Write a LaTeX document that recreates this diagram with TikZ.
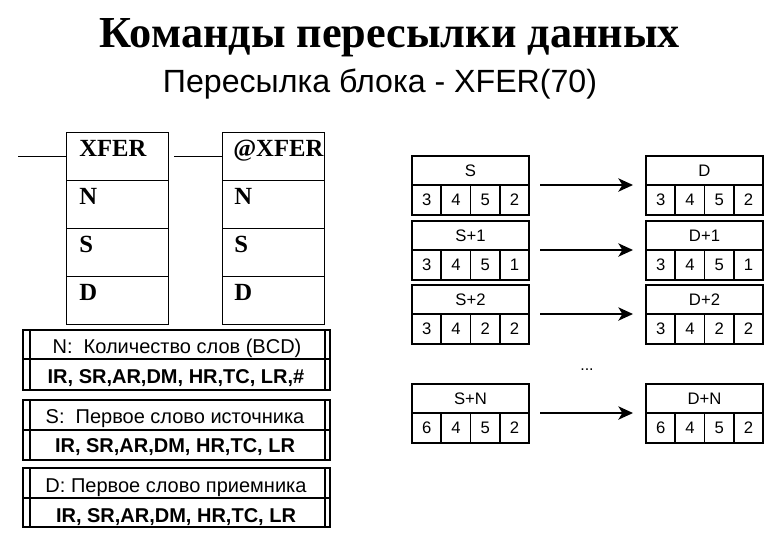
\documentclass[tikz,border=0pt]{standalone}
\usepackage{fontspec}
\setmainfont{Liberation Serif}
\setsansfont{Liberation Sans}
\usetikzlibrary{arrows.meta}
\tikzset{
  wordhead/.style={draw, line width=1.2pt, anchor=north west, inner sep=0pt, outer sep=0pt,
    minimum width=87.75pt, minimum height=21.75pt,
    font=\sffamily\fontsize{12.5}{15}\selectfont},
  wordcell/.style={draw, line width=1.2pt, anchor=north west, inner sep=0pt, outer sep=0pt,
    minimum width=21.94pt, minimum height=22.5pt,
    font=\sffamily\fontsize{12.5}{15}\selectfont},
  boxtext/.style={anchor=base west, inner sep=0pt, font=\bfseries\fontsize{18.5}{20}\selectfont},
  infotext/.style={anchor=base, inner sep=0pt, font=\sffamily\fontsize{15}{18}\selectfont},
  infobold/.style={anchor=base, inner sep=0pt, font=\sffamily\bfseries\fontsize{15}{18}\selectfont},
  infoline/.style={line width=1.3pt},
  movearrow/.style={line width=1.1pt, -{Stealth[length=11pt, width=10pt, inset=3pt]}}
}
\begin{document}
\begin{tikzpicture}[x=0.75pt,y=0.75pt,yscale=-1,xscale=1]
\useasboundingbox (0,0) rectangle (780,540);
% titles
\node[anchor=base, inner sep=0pt, font=\bfseries\fontsize{33.2}{40}\selectfont] (title) at (390,47) {Команды пересылки данных};
\node[anchor=base, inner sep=0pt, font=\sffamily\fontsize{24.1}{28}\selectfont] (subtitle) at (380,92) {Пересылка блока - XFER(70)};
% ladder boxes
\draw [line width=0.6pt] (66,132) rectangle (168,324);
\draw [line width=0.6pt] (66,180) -- (168,180) (66,228) -- (168,228) (66,276) -- (168,276);
\draw [line width=0.6pt] (222,132) rectangle (324,324);
\draw [line width=0.6pt] (222,180) -- (324,180) (222,228) -- (324,228) (222,276) -- (324,276);
\coordinate (railin) at (18,156);
\coordinate (xferin) at (66,156);
\coordinate (railmid) at (174,156);
\coordinate (atxferin) at (222,156);
\draw [line width=0.6pt] (railin) -- (xferin);
\draw [line width=0.6pt] (railmid) -- (atxferin);
\node[boxtext] (xfer) at (79,156) {XFER};
\node[boxtext] (xfern) at (79,204) {N};
\node[boxtext] (xfers) at (79,252) {S};
\node[boxtext] (xferd) at (79,300) {D};
\node[boxtext] (atxfer) at (233,156) {@XFER};
\node[boxtext] (atxfern) at (234,204) {N};
\node[boxtext] (atxfers) at (234,252) {S};
\node[boxtext] (atxferd) at (234,300) {D};
% operand boxes
\draw [infoline] (23,330) rectangle (330,390);
\draw [infoline] (30,330) -- (30,390) (325,330) -- (325,390) (23,359) -- (330,359);
\node[infotext] (ntext) at (177,353) {N:\ \ Количество слов (BCD)};
\node[infobold] (narea) at (176,383) {IR, SR,AR,DM, HR,TC, LR,\#};
\draw [infoline] (23,400) rectangle (330,460);
\draw [infoline] (30,400) -- (30,460) (325,400) -- (325,460) (23,430) -- (330,430);
\node[infotext] (stext) at (175,423) {S:\ \ Первое слово источника};
\node[infobold] (sarea) at (175,452) {IR, SR,AR,DM, HR,TC, LR};
\draw [infoline] (23,468) rectangle (330,527);
\draw [infoline] (30,468) -- (30,527) (325,468) -- (325,527) (23,498) -- (330,498);
\node[infotext] (dtext) at (176,492) {D: Первое слово приемника};
\node[infobold] (darea) at (176,522) {IR, SR,AR,DM, HR,TC, LR};
% words S -> D
\foreach \row/\top/\src/\dst/\va/\vb/\vc/\vd in {1/156/S/D/3/4/5/2, 2/221/S+1/D+1/3/4/5/1, 3/285/S+2/D+2/3/4/2/2, 4/384/S+N/D+N/6/4/5/2} {
  \node[wordhead] (src\row) at (412,\top) {\src};
  \node[wordcell] (src\row-1) at (src\row.south west) {\va};
  \node[wordcell] (src\row-2) at (src\row-1.north east) {\vb};
  \node[wordcell] (src\row-3) at (src\row-2.north east) {\vc};
  \node[wordcell] (src\row-4) at (src\row-3.north east) {\vd};
  \node[wordhead] (dst\row) at (646,\top) {\dst};
  \node[wordcell] (dst\row-1) at (dst\row.south west) {\va};
  \node[wordcell] (dst\row-2) at (dst\row-1.north east) {\vb};
  \node[wordcell] (dst\row-3) at (dst\row-2.north east) {\vc};
  \node[wordcell] (dst\row-4) at (dst\row-3.north east) {\vd};
  \draw [movearrow] ([xshift=8.25pt]src\row.south east) -- ([xshift=-9.75pt]dst\row.south west);
}
\node[inner sep=0pt, font=\sffamily\fontsize{12}{14}\selectfont] (dots) at (587,370) {...};
\end{tikzpicture}
\end{document}
